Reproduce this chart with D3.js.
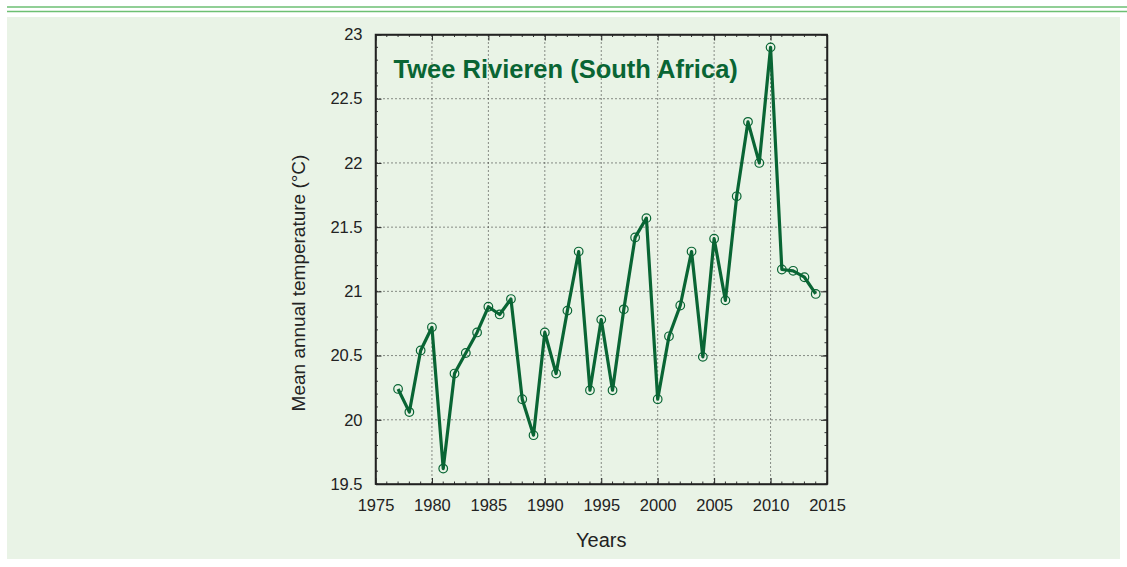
<!DOCTYPE html>
<html>
<head>
<meta charset="utf-8">
<script src="https://cdn.jsdelivr.net/npm/d3@7"></script>
<style>
  body { margin: 0; background: #fff; }
  svg text { font-family: "Liberation Sans", Arial, sans-serif; fill: #222; }
</style>
</head>
<body>
<svg id="chart" width="1127" height="567"></svg>
<script>
// data
const years = [1977, 1978, 1979, 1980, 1981, 1982, 1983, 1984, 1985, 1986,
  1987, 1988, 1989, 1990, 1991, 1992, 1993, 1994, 1995, 1996,
  1997, 1998, 1999, 2000, 2001, 2002, 2003, 2004, 2005, 2006,
  2007, 2008, 2009, 2010, 2011, 2012, 2013, 2014];
const temps = [20.24, 20.06, 20.54, 20.72, 19.62, 20.36, 20.52, 20.68, 20.88, 20.82,
  20.94, 20.16, 19.88, 20.68, 20.36, 20.85, 21.31, 20.23, 20.78, 20.23,
  20.86, 21.42, 21.57, 20.16, 20.65, 20.89, 21.31, 20.49, 21.41, 20.93,
  21.74, 22.32, 22.00, 22.90, 21.17, 21.16, 21.11, 20.98];
const xTicks = [1975, 1980, 1985, 1990, 1995, 2000, 2005, 2010, 2015];
const yTicks = [19.5, 20, 20.5, 21, 21.5, 22, 22.5, 23];
const title = 'Twee Rivieren (South Africa)';

function drawChart() {
  const green = '#096534';
  const svg = d3.select('#chart');

  // page decoration: double rule + pale panel
  svg.append('line').attr('x1', 7).attr('x2', 1127).attr('y1', 7).attr('y2', 7)
    .attr('stroke', '#6dbf73').attr('stroke-width', 1.5);
  svg.append('line').attr('x1', 7).attr('x2', 1127).attr('y1', 11.5).attr('y2', 11.5)
    .attr('stroke', '#6dbf73').attr('stroke-width', 1.5);
  svg.append('rect').attr('x', 7).attr('y', 17).attr('width', 1113).attr('height', 542)
    .attr('fill', '#e9f3e6');

  const mLeft = 375.5, mTop = 34.5, mRight = 827, mBottom = 484;
  const width = mRight - mLeft, height = mBottom - mTop;

  const x = d3.scaleLinear().domain([1975, 2015]).range([0, width]);
  const y = d3.scaleLinear().domain([19.5, 23]).range([height, 0]);

  const chart = svg.append('g').attr('transform', `translate(${mLeft}, ${mTop})`);

  // dotted grid
  chart.append('g').selectAll('line')
    .data(xTicks.slice(1, -1)).enter().append('line')
    .attr('x1', d => x(d)).attr('x2', d => x(d))
    .attr('y1', 0).attr('y2', height)
    .attr('stroke', '#222').attr('stroke-width', 1).attr('stroke-dasharray', '1,3');
  chart.append('g').selectAll('line')
    .data(yTicks.slice(1, -1)).enter().append('line')
    .attr('x1', 0).attr('x2', width)
    .attr('y1', d => y(d)).attr('y2', d => y(d))
    .attr('stroke', '#222').attr('stroke-width', 1).attr('stroke-dasharray', '1,3');

  // axes, ticks pointing inwards on all sides
  const bottomAxis = chart.append('g').attr('transform', `translate(0, ${height})`)
    .call(d3.axisBottom(x).tickValues(xTicks).tickFormat(d3.format('d')).tickSizeInner(-6).tickSizeOuter(0).tickPadding(15));
  const topAxis = chart.append('g')
    .call(d3.axisTop(x).tickValues(xTicks).tickFormat('').tickSizeInner(-6).tickSizeOuter(0));
  const leftAxis = chart.append('g')
    .call(d3.axisLeft(y).tickValues(yTicks).tickFormat(d => d).tickSizeInner(-6).tickSizeOuter(0).tickPadding(13));
  const rightAxis = chart.append('g').attr('transform', `translate(${width}, 0)`)
    .call(d3.axisRight(y).tickValues(yTicks).tickFormat('').tickSizeInner(-6).tickSizeOuter(0));

  // minor ticks
  const minorX = d3.range(1975, 2016, 1);
  const minorY = d3.range(195, 231, 1).map(v => v / 10);
  bottomAxis.append('g').selectAll('line').data(minorX).enter().append('line')
    .attr('x1', d => x(d)).attr('x2', d => x(d)).attr('y1', 0).attr('y2', -2.5)
    .attr('stroke', '#333');
  topAxis.append('g').selectAll('line').data(minorX).enter().append('line')
    .attr('x1', d => x(d)).attr('x2', d => x(d)).attr('y1', 0).attr('y2', 2.5)
    .attr('stroke', '#333');
  leftAxis.append('g').selectAll('line').data(minorY).enter().append('line')
    .attr('y1', d => y(d)).attr('y2', d => y(d)).attr('x1', 0).attr('x2', 2.5)
    .attr('stroke', '#333');
  rightAxis.append('g').selectAll('line').data(minorY).enter().append('line')
    .attr('y1', d => y(d)).attr('y2', d => y(d)).attr('x1', 0).attr('x2', -2.5)
    .attr('stroke', '#333');

  chart.selectAll('.domain').attr('stroke', '#222').attr('stroke-width', 1.5);
  chart.selectAll('.tick line').attr('stroke', '#222').attr('stroke-width', 1);
  chart.selectAll('.tick text').attr('font-size', '16.5px').attr('fill', '#222')
    .style('font-family', '"Liberation Sans", Arial, sans-serif');

  // frame
  chart.append('rect').attr('width', width).attr('height', height)
    .attr('fill', 'none').attr('stroke', '#222').attr('stroke-width', 1.5);

  // series
  const data = years.map((yr, i) => ({ year: yr, value: temps[i] }));
  chart.append('path')
    .datum(data)
    .attr('fill', 'none')
    .attr('stroke', green)
    .attr('stroke-width', 3.2)
    .attr('stroke-linejoin', 'round')
    .attr('d', d3.line().x(d => x(d.year)).y(d => y(d.value)));

  chart.selectAll('.pt')
    .data(data).enter().append('circle')
    .attr('class', 'pt')
    .attr('cx', d => x(d.year))
    .attr('cy', d => y(d.value))
    .attr('r', 4.3)
    .attr('fill', 'none')
    .attr('stroke', green)
    .attr('stroke-width', 1.2);

  // title inside plot
  chart.append('text')
    .attr('x', 18)
    .attr('y', 43.5)
    .attr('font-size', '25.5px')
    .attr('font-weight', 'bold')
    .style('fill', green)
    .text(title);

  // axis labels
  svg.append('text')
    .attr('x', mLeft + width / 2)
    .attr('y', 547)
    .attr('text-anchor', 'middle')
    .attr('font-size', '20px')
    .text('Years');

  svg.append('text')
    .attr('transform', `translate(305, 283) rotate(-90)`)
    .attr('text-anchor', 'middle')
    .attr('font-size', '19px')
    .text('Mean annual temperature (°C)');
}

drawChart();
</script>
</body>
</html>
